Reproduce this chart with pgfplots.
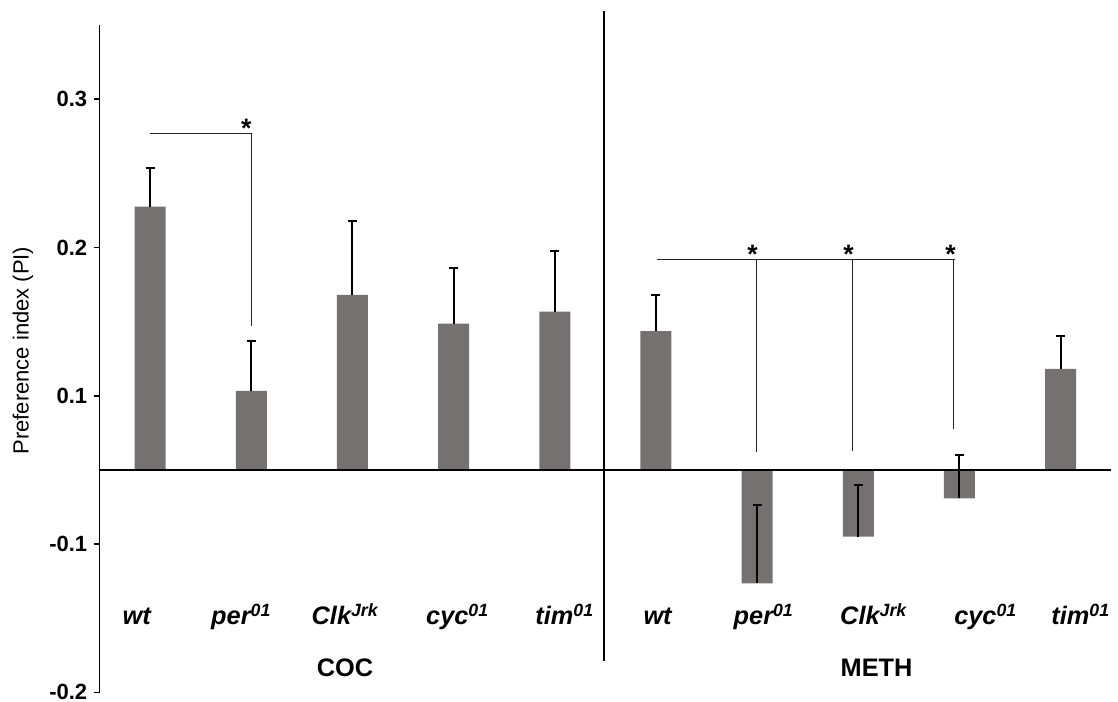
\documentclass[border=0pt]{standalone}
\usepackage{fontspec}
\setmainfont{Liberation Sans}
\usepackage{pgfplots}
\pgfplotsset{compat=1.18}
\usepackage{pgfplotstable}
\definecolor{bargray}{RGB}{118,113,113}

\pgfplotstableread{
x y err
0 0.1775 0.0258
1 0.0534 0.0335
2 0.1181 0.0501
3 0.0986 0.0375
4 0.1067 0.0411
5 0.0936 0.0245
6 -0.0765 0.0526
7 -0.0450 0.0350
8 -0.0192 0.0290
9 0.0682 0.0223
}\datatable

\begin{document}
\begin{tikzpicture}
\useasboundingbox (0,0) rectangle (838.5pt,526.5pt);
\begin{axis}[
  at={(74.625pt,7.2pt)}, anchor=south west,
  scale only axis,
  width=758.8pt, height=500.5pt,
  xmin=-0.5, xmax=9.5,
  ymin=-0.15, ymax=0.3,
  axis x line*=bottom, axis y line*=left,
  x axis line style={draw=none},
  y axis line style={line width=1.3pt},
  xtick={-0.133,0.900,1.927,3.039,4.097,5.016,6.064,7.151,8.258,9.197},
  xticklabels={wt,per\textsuperscript{01},Clk\textsuperscript{Jrk},cyc\textsuperscript{01},tim\textsuperscript{01},wt,per\textsuperscript{01},Clk\textsuperscript{Jrk},cyc\textsuperscript{01},tim\textsuperscript{01}},
  xtick style={draw=none},
  xticklabel style={font=\fontsize{19pt}{21pt}\selectfont\bfseries\itshape, anchor=base, yshift=55.2pt, inner sep=0pt},
  ytick={-0.15,-0.05,0.05,0.15,0.25},
  yticklabels={-0.2,-0.1,0.1,0.2,0.3},
  ytick align=outside,
  major tick length=4.5pt,
  ytick style={line width=1.3pt, black},
  yticklabel style={font=\fontsize{16.5pt}{18pt}\selectfont\bfseries, inner sep=0pt, xshift=-4.5pt},
  ylabel={Preference index (PI)},
  every axis y label/.style={at={(rel axis cs:-0.0756,0.5122)}, rotate=90, anchor=center, font=\fontsize{16.5pt}{18pt}\selectfont},
  clip=false,
  ybar, bar width=23.25pt,
]
\addplot[fill=bargray, draw=none,
  error bars/.cd, y dir=plus, y explicit,
  error bar style={line width=1.5pt, black},
  error mark=-,
  error mark options={rotate=90, line width=1.5pt, draw=black, mark size=3.4pt}]
  table[x=x, y=y, y error=err] {\datatable};

% zero line
\draw[line width=1.5pt] (axis cs:-0.5,0) -- (axis cs:9.5,0);
% divider
\draw[line width=1.5pt] (axis cs:4.486,0.3092) -- (axis cs:4.486,-0.1291);
% COC bracket
\draw[line width=0.8pt, black!85] (axis cs:0,0.2271) -- (axis cs:1.0,0.2271) -- (axis cs:1.0,0.0970);
\node[font=\fontsize{20pt}{22pt}\selectfont\bfseries, anchor=base, inner sep=0pt] at (axis cs:0.951,0.2241) {*};
% METH bracket
\draw[line width=0.8pt, black!85] (axis cs:5.006,0.1417) -- (axis cs:7.959,0.1417);
\draw[line width=0.8pt, black!85] (axis cs:5.995,0.1417) -- (axis cs:5.995,0.0123);
\draw[line width=0.8pt, black!85] (axis cs:6.944,0.1417) -- (axis cs:6.944,0.0131);
\draw[line width=0.8pt, black!85] (axis cs:7.945,0.1417) -- (axis cs:7.945,0.0278);
\node[font=\fontsize{20pt}{22pt}\selectfont\bfseries, anchor=base, inner sep=0pt] at (axis cs:5.955,0.1389) {*};
\node[font=\fontsize{20pt}{22pt}\selectfont\bfseries, anchor=base, inner sep=0pt] at (axis cs:6.904,0.1389) {*};
\node[font=\fontsize{20pt}{22pt}\selectfont\bfseries, anchor=base, inner sep=0pt] at (axis cs:7.913,0.1389) {*};
% group labels
\node[font=\fontsize{19pt}{21pt}\selectfont\bfseries, anchor=base, inner sep=0pt] at (axis cs:1.927,-0.1390) {COC};
\node[font=\fontsize{19pt}{21pt}\selectfont\bfseries, anchor=base, inner sep=0pt] at (axis cs:7.181,-0.1390) {METH};
\end{axis}
\end{tikzpicture}
\end{document}
